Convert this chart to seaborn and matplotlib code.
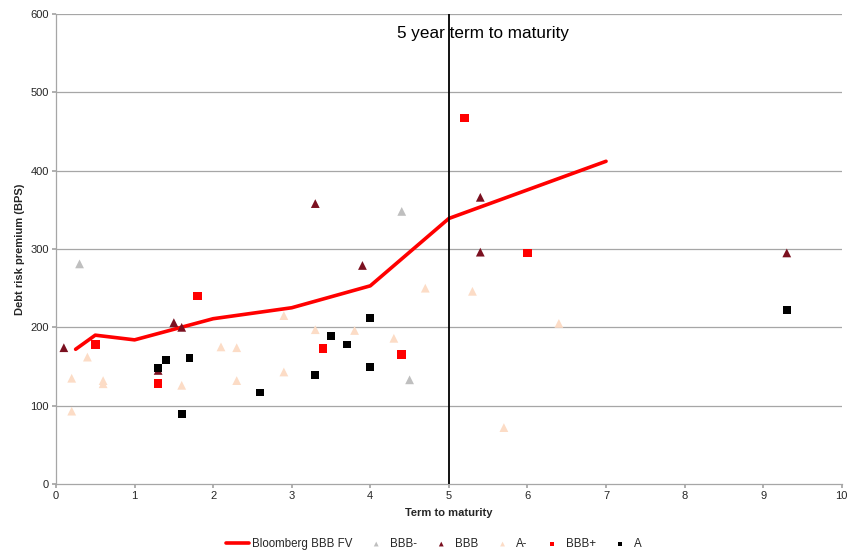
import matplotlib
matplotlib.use("Agg")
import matplotlib.pyplot as plt
import seaborn as sns
import pandas as pd

sns.set_theme(style="white")
plt.rcParams['font.family'] = ['Liberation Sans', 'DejaVu Sans']

# Bloomberg BBB fair value curve
fv_x = [0.25, 0.5, 1, 2, 3, 4, 5, 7]
fv_y = [172, 190, 184, 211, 225, 253, 339, 412]

bbbm_x = [0.3, 4.4, 4.5]
bbbm_y = [281, 348, 133]

bbb_x = [0.1, 1.5, 1.6, 1.3, 3.3, 3.9, 5.4, 5.4, 9.3]
bbb_y = [174, 206, 200, 145, 358, 279, 366, 296, 295]

am_x = [0.2, 0.2, 0.4, 0.6, 0.6, 1.6, 2.1, 2.3, 2.3, 2.9, 3.3, 3.8, 4.3, 2.9, 4.7, 5.3, 6.4, 5.7]
am_y = [135, 93, 162, 132, 128, 126, 175, 174, 132, 215, 197, 196, 186, 143, 250, 246, 205, 72]

bbbp_x = [0.5, 1.3, 1.8, 3.4, 4.4, 5.2, 6.0]
bbbp_y = [178, 128, 240, 173, 165, 467, 295]

a_x = [1.3, 1.4, 1.7, 1.6, 2.6, 3.3, 3.5, 3.7, 4.0, 4.0, 9.3]
a_y = [148, 158, 161, 89, 117, 139, 189, 178, 212, 149, 222]

x_ticks = list(range(0, 11))
y_ticks = list(range(0, 601, 100))

fig = plt.figure(figsize=(8.52, 5.52), dpi=100)
ax = fig.add_axes([0.0657, 0.1232, 0.9223, 0.8514])

grid_c = "#A6A6A6"
for t in y_ticks[1:]:
    ax.axhline(t, color=grid_c, lw=0.9, zorder=0)

sns.lineplot(x=fv_x, y=fv_y, ax=ax, color="#FF0000", lw=2.6,
             label="Bloomberg BBB FV", zorder=3)

series = [
    ("BBB-", bbbm_x, bbbm_y, "^", "#BFBFBF", 40),
    ("BBB", bbb_x, bbb_y, "^", "#7B1020", 40),
    ("A-", am_x, am_y, "^", "#FCDCC6", 40),
    ("BBB+", bbbp_x, bbbp_y, "s", "#FF0000", 38),
    ("A", a_x, a_y, "s", "#000000", 30),
]
for name, xs, ys, mk, col, s in series:
    sns.scatterplot(x=xs, y=ys, ax=ax, marker=mk, color=col, s=s,
                    edgecolor="none", label=name, zorder=4)

ax.axvline(5, color="black", lw=1.3, zorder=5)
ax.text(5.44, 575, "5 year term to maturity", fontsize=12.3, ha="center",
        va="center", color="black", zorder=6)

ax.set_xlim(0, 10)
ax.set_ylim(0, 600)
ax.set_xticks(x_ticks)
ax.set_yticks(y_ticks)
ax.tick_params(axis="both", labelsize=8, length=3, color=grid_c,
               direction="out", bottom=True, left=True, pad=2)
for sp in ["top", "right"]:
    ax.spines[sp].set_visible(False)
for sp in ["left", "bottom"]:
    ax.spines[sp].set_color(grid_c)
    ax.spines[sp].set_linewidth(0.9)

ax.set_xlabel("Term to maturity", fontsize=8, fontweight="bold", labelpad=5)
ax.set_ylabel("Debt risk premium (BPS)", fontsize=8, fontweight="bold", labelpad=4)

ax.legend(loc="upper center", bbox_to_anchor=(0.481, -0.093), ncol=6,
          frameon=False, fontsize=8.3, handlelength=2.0, columnspacing=1.1,
          handletextpad=0.2, markerscale=0.55)

fig.savefig("out.png", dpi=100)
